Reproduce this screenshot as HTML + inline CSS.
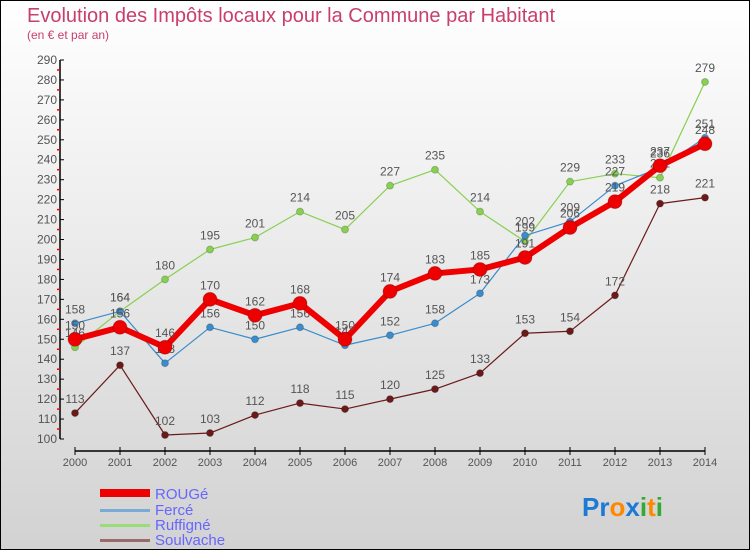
<!DOCTYPE html>
<html><head><meta charset="utf-8"><style>
body{margin:0}
#c{width:750px;height:550px;position:relative;overflow:hidden;font-family:"Liberation Sans",sans-serif;}
</style></head><body>
<div id="c">
<svg id="s" width="750" height="550" xmlns="http://www.w3.org/2000/svg">
<defs><linearGradient id="bg" x1="0" y1="0" x2="0" y2="1"><stop offset="0" stop-color="#ffffff"/><stop offset="1" stop-color="#d2d2d2"/></linearGradient></defs>
<rect x="0.5" y="0.5" width="749" height="549" fill="url(#bg)" stroke="#000"/>
<text x="27" y="22" font-size="20" fill="#c8406a">Evolution des Impôts locaux pour la Commune par Habitant</text>
<text x="27" y="39" font-size="12" fill="#c8406a">(en € et par an)</text>
<g id="axes"></g><g id="series"></g>
<g>
<rect x="100" y="489" width="50" height="8" fill="#ee0000"/>
<text x="155" y="499" font-size="15" fill="#6666ff">ROUGé</text>
<rect x="100" y="509" width="50" height="3" fill="#7aaad6"/>
<text x="155" y="515" font-size="15" fill="#6666ff">Fercé</text>
<rect x="100" y="524" width="50" height="3" fill="#99dd77"/>
<text x="155" y="530" font-size="15" fill="#6666ff">Ruffigné</text>
<rect x="100" y="539" width="50" height="3" fill="#9a6a6a"/>
<text x="155" y="545" font-size="15" fill="#6666ff">Soulvache</text>
</g>
<text x="582" y="516" font-size="26" font-weight="bold"><tspan fill="#1a7ad6">Pr</tspan><tspan fill="#ff8800">o</tspan><tspan fill="#1a7ad6">x</tspan><tspan fill="#33aa33">i</tspan><tspan fill="#ff8800">t</tspan><tspan fill="#33aa33">i</tspan></text>
</svg>
</div>
<script>
const years=[2000,2001,2002,2003,2004,2005,2006,2007,2008,2009,2010,2011,2012,2013,2014];
const yTicks=[100,110,120,130,140,150,160,170,180,190,200,210,220,230,240,250,260,270,280,290];
const rouge=[150,156,146,170,162,168,150,174,183,185,191,206,219,237,248];
const ferce=[158,164,138,156,150,156,147,152,158,173,202,209,227,236,251];
const ruffigne=[146,164,180,195,201,214,205,227,235,214,199,229,233,231,279];
const soulvache=[113,137,102,103,112,118,115,120,125,133,153,154,172,218,221];
const NS="http://www.w3.org/2000/svg";
function X(i){return 75+(630/(years.length-1))*i;}
function Y(v){return 439-(v-100)*(379/190);}
function mk(t,a,p){const e=document.createElementNS(NS,t);for(const k in a)e.setAttribute(k,a[k]);p.appendChild(e);return e;}
const ax=document.getElementById('axes');
let l=mk('line',{x1:60,y1:Y(290),x2:60,y2:Y(100),stroke:'#000','stroke-width':1.5},ax);


yTicks.forEach(v=>{const y=Y(v);
 let t=mk('line',{x1:60,y1:y,x2:64,y2:y,stroke:'#000'},ax);
 
 
 if(v<290){let m=mk('line',{x1:57,y1:Y(v+5),x2:60,y2:Y(v+5),stroke:'#e00','stroke-width':1.5},ax);
 
 }
 let tx=mk('text',{x:57,y:y+4,'font-size':12,fill:'#555','text-anchor':'end'},ax);tx.textContent=v;
 
 
});
l=mk('line',{x1:75,y1:451,x2:705,y2:451,stroke:'#000','stroke-width':1.5},ax);


years.forEach((yr,i)=>{const x=X(i);
 let t=mk('line',{x1:x,y1:447,x2:x,y2:455,stroke:'#000'},ax);
 
 
 let tx=mk('text',{x:x,y:466,'font-size':11,fill:'#555','text-anchor':'middle'},ax);tx.textContent=yr;
 
 
});
const sg=document.getElementById('series');
function draw(name,vals,color,w,r){
 const g=mk('g',{},sg);
 
 
 const pl=mk('polyline',{points:vals.map((v,i)=>X(i)+','+Y(v)).join(' '),fill:'none',stroke:color,'stroke-width':w,'stroke-linejoin':'round'},g);
 
 
 vals.forEach((v,i)=>{
  const c=mk('circle',{cx:X(i),cy:Y(v),r:r,fill:color,stroke:'rgba(0,0,0,0.2)'},g);
  
  
  const t=mk('text',{x:X(i),y:Y(v)-10,'font-size':12,fill:'#555','text-anchor':'middle'},g);t.textContent=v;
  
  
 });
}
draw('soulvache',soulvache,'#6b1a1a',1.2,3.5);
draw('ruffigne',ruffigne,'#88d050',1.2,3.5);
draw('ferce',ferce,'#3a8ccc',1.2,3.5);
draw('rouge',rouge,'#ee0000',6,7);
</script>
</body></html>
